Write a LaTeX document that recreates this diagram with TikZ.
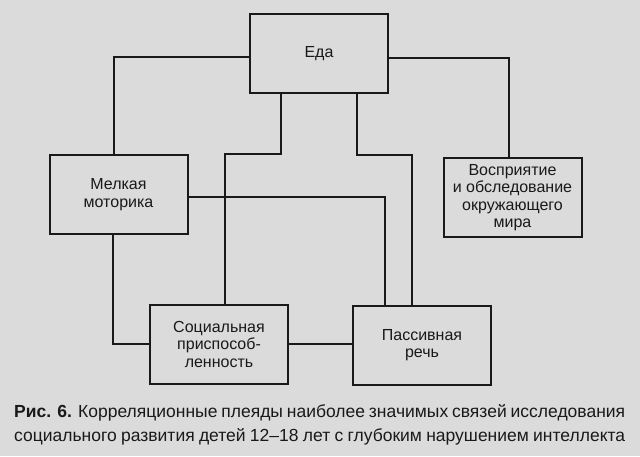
\documentclass[tikz,border=0pt]{standalone}
\usepackage{fontspec}
\setmainfont{Liberation Sans}
\usetikzlibrary{calc, positioning}
\definecolor{paper}{gray}{0.86}
\definecolor{ink}{gray}{0.1}

\begin{document}
\begin{tikzpicture}[% styles used in image code
  x = 1pt, y = 1pt,
box/.style = {draw=ink, line width=2pt,
              minimum width=138pt, minimum height=79pt,
              inner sep=0pt, align=center, text=ink,
              font=\fontsize{16}{17.5}\selectfont},
link/.style = {draw=ink, line width=2pt},
capline/.style = {inner sep=0pt, anchor=base west, text=ink,
                  font=\fontsize{17.5}{20}\selectfont}
                   ]
	% page
	\fill[paper] (0,0) rectangle (640,-456);
	\useasboundingbox (0,0) rectangle (640,-456);

	% boxes
	\node[box] (eda)   at (319,-53.5)   {Еда};
	\node[box] (melk)  at (118.5,-194.5) {Мелкая\\моторика};
	\node[box] (vospr) at (512.5,-197.5) {Восприятие\\и обследование\\окружающего\\мира};
	\node[box] (soc)   at (219,-344)    {Социальная\\приспособ-\\ленность};
	\node[box] (pass)  at (422,-345)    {Пассивная\\речь};

	% links
	\draw[link] ([yshift=-3pt]eda.west) -| ([xshift=-5pt]melk.north);
	\draw[link] ([yshift=-4pt]eda.east) -| ([xshift=-4pt]vospr.north);
	\draw[link] ([xshift=-38pt]eda.south) -- ++(0,-60) -| ([xshift=6pt]soc.north);
	\draw[link] ([xshift=38pt]eda.south) -- ++(0,-61) -| ([xshift=-10pt]pass.north);
	\draw[link] ([yshift=-2pt]melk.east) -| ([xshift=-37pt]pass.north);
	\draw[link] ([xshift=-5.5pt]melk.south) |- (soc.west);
	\draw[link] (soc.east) -- (soc.east -| pass.west);

	% caption
	\node[capline] (cap1) at (14,-417)
	  {\makebox[611pt][s]{\textbf{Рис. 6.} Корреляционные плеяды наиболее значимых связей исследования}};
	\node[capline] (cap2) at (14,-441)
	  {\makebox[611pt][s]{социального развития детей 12–18 лет с глубоким нарушением интеллекта}};
\end{tikzpicture}
\end{document}
